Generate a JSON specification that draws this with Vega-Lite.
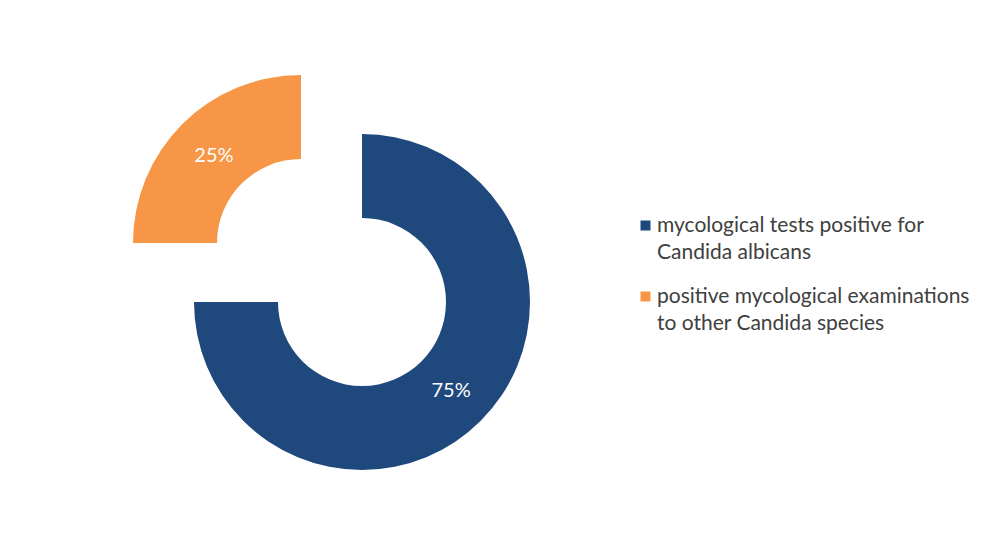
{
  "$schema": "https://vega.github.io/schema/vega-lite/v6.json",
  "autosize": {"type": "none"},
  "width": 710,
  "height": 474,
  "padding": {"left": 7, "top": 65, "right": 268, "bottom": 0},
  "background": "white",
  "config": {
    "view": {"stroke": null},
    "font": "Lato"
  },
  "data": {
    "values": [
      {"category": "mycological tests positive for Candida albicans", "share": 0.75},
      {"category": "positive mycological examinations to other Candida species", "share": 0.25}
    ]
  },
  "transform": [
    {"stack": "share", "groupby": [], "as": ["s0", "s1"]}
  ],
  "layer": [
    {
      "transform": [{"filter": "datum.category === 'mycological tests positive for Candida albicans'"}],
      "mark": {"type": "arc", "radius": 168, "innerRadius": 84},
      "encoding": {
        "theta": {"field": "s0", "type": "quantitative", "scale": {"domain": [0, 1]}},
        "theta2": {"field": "s1"},
        "color": {
          "field": "category", "type": "nominal",
          "scale": {
            "domain": ["mycological tests positive for Candida albicans", "positive mycological examinations to other Candida species"],
            "range": ["#1F497D", "#F79646"]
          },
          "legend": {
            "title": null,
            "orient": "none",
            "legendX": 628,
            "legendY": 150,
            "padding": 0,
            "symbolType": "square",
            "symbolSize": 100,
            "symbolStrokeWidth": 0,
            "labelFont": "Lato",
            "labelFontSize": 21,
            "labelColor": "#404040",
            "labelLimit": 450,
            "labelOffset": 1,
            "rowPadding": 22,
            "labelExpr": "datum.label === 'mycological tests positive for Candida albicans' ? ['mycological tests positive for', 'Candida albicans'] : ['positive mycological examinations', 'to other Candida species']",
            "encode": {
              "labels": {"update": {"lineHeight": {"value": 27}, "baseline": {"value": "top"}, "dy": {"value": -11}}}
            }
          }
        }
      }
    },
    {
      "transform": [{"filter": "datum.category === 'positive mycological examinations to other Candida species'"}],
      "mark": {"type": "arc", "radius": 168, "innerRadius": 84, "xOffset": -61, "yOffset": -59},
      "encoding": {
        "theta": {"field": "s0", "type": "quantitative", "scale": {"domain": [0, 1]}},
        "theta2": {"field": "s1"},
        "color": {"field": "category", "type": "nominal"}
      }
    },
    {
      "mark": {"type": "text", "radius": 126, "fontSize": 20, "font": "Lato"},
      "encoding": {
        "theta": {"field": "share", "type": "quantitative", "stack": true, "scale": {"domain": [0, 1]}},
        "order": {"field": "share", "sort": "descending"},
        "text": {"field": "share", "type": "quantitative", "format": ".0%"},
        "fill": {"condition": {"test": "datum.category === 'mycological tests positive for Candida albicans'", "value": "white"}, "value": "transparent"}
      }
    },
    {
      "mark": {"type": "text", "radius": 126, "fontSize": 20, "font": "Lato", "xOffset": -59, "yOffset": -57},
      "encoding": {
        "theta": {"field": "share", "type": "quantitative", "stack": true, "scale": {"domain": [0, 1]}},
        "order": {"field": "share", "sort": "descending"},
        "text": {"field": "share", "type": "quantitative", "format": ".0%"},
        "fill": {"condition": {"test": "datum.category !== 'mycological tests positive for Candida albicans'", "value": "white"}, "value": "transparent"}
      }
    }
  ]
}
